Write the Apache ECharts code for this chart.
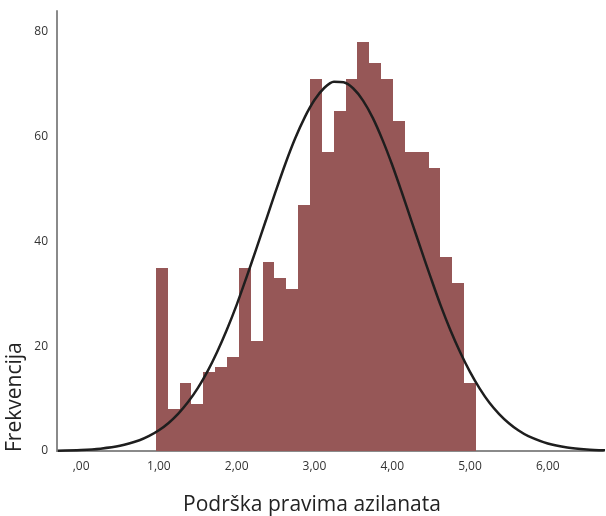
<!DOCTYPE html>
<html>
<head>
<meta charset="utf-8">
<script src="https://cdn.jsdelivr.net/npm/echarts@6/dist/echarts.min.js"></script>
<style>
html,body{margin:0;padding:0;background:#fff;}
#chart{width:606px;height:516px;}
</style>
</head>
<body>
<div id="chart"></div>
<script>
// Histogram bins
const binStart = 0.96;
const binWidth = 0.1525;
const counts = [35, 8, 13, 9, 15, 16, 18, 35, 21, 36, 33, 31, 47, 71, 57, 65, 71, 78, 74, 71, 63, 57, 57, 54, 37, 32, 13];

// Normal curve
const curveX = [-0.3, 0, 0.25, 0.5, 0.75, 0.875, 1.0, 1.125, 1.25, 1.375, 1.5, 1.625, 1.75, 1.875, 2.0, 2.125, 2.25, 2.375, 2.5, 2.625, 2.75, 2.875, 3.0, 3.125, 3.25, 3.375, 3.5, 3.625, 3.75, 3.875, 4.0, 4.125, 4.25, 4.375, 4.5, 4.625, 4.75, 4.875, 5.0, 5.125, 5.25, 5.375, 5.5, 5.625, 5.75, 6.0, 6.25, 6.5, 6.75];
const curveY = [0.06, 0.19, 0.45, 0.99, 2.05, 2.87, 3.95, 5.35, 7.14, 9.34, 12.0, 15.2, 18.96, 23.2, 27.9, 33.1, 38.5, 44.0, 49.5, 54.8, 59.6, 63.7, 67.0, 69.3, 70.5, 70.4, 69.2, 66.9, 63.6, 59.4, 54.6, 49.3, 43.8, 38.3, 32.9, 27.7, 23.0, 18.8, 15.1, 11.9, 9.2, 7.05, 5.3, 3.9, 2.83, 1.42, 0.66, 0.29, 0.12];

const yTicks = [0, 20, 40, 60, 80];
const xTitle = 'Podrška pravima azilanata';
const yTitle = 'Frekvencija';

const barData = counts.map((c, i) => [binStart + i * binWidth, binStart + (i + 1) * binWidth, c]);
const lineData = curveX.map((x, i) => [x, curveY[i]]);

const chart = echarts.init(document.getElementById('chart'), null, {renderer: 'canvas'});
const fontFam = '"Open Sans", "Noto Sans", sans-serif';
chart.setOption({
  animation: false,
  backgroundColor: '#ffffff',
  grid: {left: 57, right: 0, top: 11, bottom: 65},
  xAxis: {
    type: 'value',
    min: -0.31,
    max: 6.71,
    splitNumber: 7,
    axisLine: {show: true, onZero: false, lineStyle: {color: '#8a8a8a', width: 2}},
    axisTick: {show: false},
    splitLine: {show: false},
    axisLabel: {
      fontFamily: fontFam, fontSize: 12, color: '#333', margin: 10,
      formatter: v => Math.abs(v - Math.round(v)) < 1e-9 ? Math.round(v).toFixed(2).replace('.', ',').replace(/^0/, '') : ''
    }
  },
  yAxis: {
    type: 'value',
    min: 0,
    max: 84,
    interval: 20,
    axisLine: {show: true, onZero: false, lineStyle: {color: '#8a8a8a', width: 2}},
    axisTick: {show: false},
    splitLine: {show: false},
    axisLabel: {
      fontFamily: fontFam, fontSize: 12, color: '#333', margin: 9,
      formatter: v => yTicks.indexOf(v) >= 0 ? String(v) : ''
    }
  },
  graphic: [{
    type: 'text',
    x: 312,
    y: 505,
    style: {text: xTitle, fontFamily: fontFam, fontSize: 21, fill: '#222', textAlign: 'center', textVerticalAlign: 'middle'}
  }, {
    type: 'text',
    x: 15.5,
    y: 452,
    rotation: Math.PI / 2,
    style: {text: yTitle, fontFamily: fontFam, fontSize: 21, fill: '#222', textAlign: 'left', textVerticalAlign: 'middle'}
  }],
  series: [{
    type: 'custom',
    data: barData,
    encode: {x: [0, 1], y: 2},
    z: 2,
    renderItem: function (params, api) {
      const p0 = api.coord([api.value(0), api.value(2)]);
      const p1 = api.coord([api.value(1), 0]);
      const x0 = Math.round(p0[0]);
      const x1 = Math.round(p1[0]);
      const y0 = Math.round(p0[1]);
      return {
        type: 'rect',
        shape: {x: x0, y: y0, width: x1 - x0, height: p1[1] - y0},
        style: {fill: '#965757'}
      };
    }
  }, {
    type: 'line',
    data: lineData,
    smooth: 0.3,
    showSymbol: false,
    symbol: 'none',
    z: 5,
    lineStyle: {color: '#1e1e1e', width: 2.5}
  }]
});
</script>
</body>
</html>
